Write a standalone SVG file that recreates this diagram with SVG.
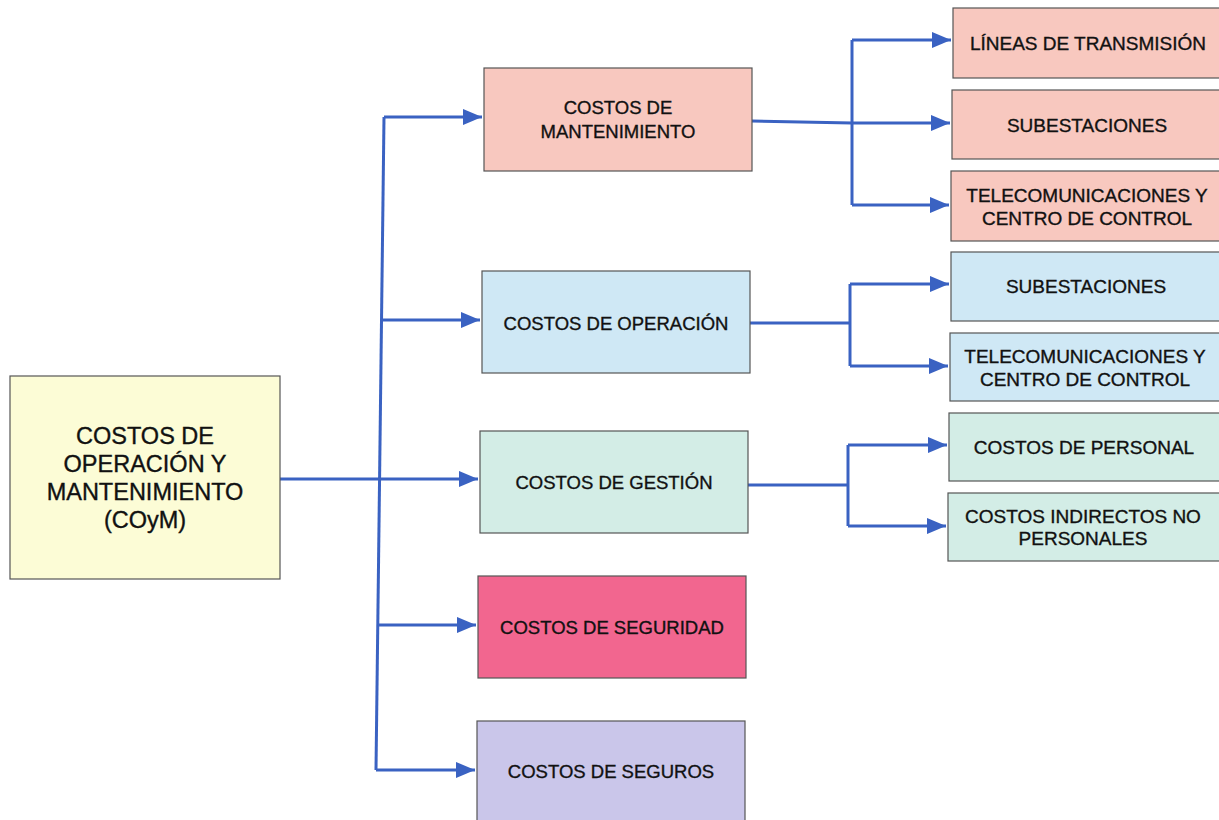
<svg xmlns="http://www.w3.org/2000/svg" width="1219" height="820" viewBox="0 0 1219 820">
<defs>
<marker id="ah" viewBox="0 0 10 10" refX="10" refY="5" markerWidth="6.5" markerHeight="5.5" markerUnits="strokeWidth" orient="auto" preserveAspectRatio="none">
<path d="M0,0 L10,5 L0,10 Z" fill="#3a62c2"/>
</marker>
</defs>
<style>
.b{stroke:#555;stroke-width:1.2}
.t{font-family:"Liberation Sans",Arial,sans-serif;fill:#111;text-anchor:middle;stroke:#111;stroke-width:0.35}
.m{font-size:18.5px}
.r{font-size:19px}
.c{fill:none;stroke:#3a62c2;stroke-width:3}
.pk{fill:#f8c8bf}
.bl{fill:#cfe8f5}
.gn{fill:#d3ede6}
</style>
<rect width="1219" height="820" fill="#fff"/>
<g id="connectors">
<path class="c" d="M384,117 L376,770"/>
<path class="c" d="M384,117 H482" marker-end="url(#ah)"/>
<path class="c" d="M382,320 H480" marker-end="url(#ah)"/>
<path class="c" d="M280,479 H478" marker-end="url(#ah)"/>
<path class="c" d="M378,625 H476" marker-end="url(#ah)"/>
<path class="c" d="M376,770 H475" marker-end="url(#ah)"/>
<path class="c" d="M752,121 L852,123"/>
<path class="c" d="M852,40 V205"/>
<path class="c" d="M852,40 H951" marker-end="url(#ah)"/>
<path class="c" d="M852,123 H950" marker-end="url(#ah)"/>
<path class="c" d="M852,205 H949" marker-end="url(#ah)"/>
<path class="c" d="M750,323 H850"/>
<path class="c" d="M850,284 V366"/>
<path class="c" d="M850,284 H949" marker-end="url(#ah)"/>
<path class="c" d="M850,366 H948" marker-end="url(#ah)"/>
<path class="c" d="M748,485 H848"/>
<path class="c" d="M848,445 V526"/>
<path class="c" d="M848,445 H947" marker-end="url(#ah)"/>
<path class="c" d="M848,526 H946" marker-end="url(#ah)"/>
</g>
<g id="root">
<rect class="b" x="10" y="376" width="270" height="203" fill="#fcfcd6"/>
<text class="t" x="145" y="444" font-size="23.5">COSTOS DE</text>
<text class="t" x="145" y="472" font-size="23.5">OPERACIÓN Y</text>
<text class="t" x="145" y="500" font-size="23.5">MANTENIMIENTO</text>
<text class="t" x="145" y="528" font-size="23.5">(COyM)</text>
</g>
<g id="mantenimiento">
<rect class="b pk" x="484" y="68" width="268" height="103"/>
<text class="t m" x="618" y="114">COSTOS DE</text>
<text class="t m" x="618" y="138">MANTENIMIENTO</text>
</g>
<g id="operacion">
<rect class="b bl" x="482" y="271" width="268" height="102"/>
<text class="t m" x="616" y="330">COSTOS DE OPERACIÓN</text>
</g>
<g id="gestion">
<rect class="b gn" x="480" y="431" width="268" height="102"/>
<text class="t m" x="614" y="489">COSTOS DE GESTIÓN</text>
</g>
<g id="seguridad">
<rect class="b" x="478" y="576" width="268" height="102" fill="#f2668f"/>
<text class="t m" x="612" y="634">COSTOS DE SEGURIDAD</text>
</g>
<g id="seguros">
<rect class="b" x="477" y="721" width="268" height="102" fill="#cac6ea"/>
<text class="t m" x="611" y="778">COSTOS DE SEGUROS</text>
</g>
<g id="m-lineas">
<rect class="b pk" x="953" y="8" width="270" height="70"/>
<text class="t r" x="1088" y="50">LÍNEAS DE TRANSMISIÓN</text>
</g>
<g id="m-subestaciones">
<rect class="b pk" x="952" y="90" width="270" height="69"/>
<text class="t r" x="1087" y="132">SUBESTACIONES</text>
</g>
<g id="m-telecom">
<rect class="b pk" x="951" y="171" width="270" height="70"/>
<text class="t r" x="1087" y="202">TELECOMUNICACIONES Y</text>
<text class="t r" x="1087" y="225">CENTRO DE CONTROL</text>
</g>
<g id="o-subestaciones">
<rect class="b bl" x="951" y="252" width="270" height="69"/>
<text class="t r" x="1086" y="293">SUBESTACIONES</text>
</g>
<g id="o-telecom">
<rect class="b bl" x="950" y="333" width="270" height="68"/>
<text class="t r" x="1085" y="363">TELECOMUNICACIONES Y</text>
<text class="t r" x="1085" y="386">CENTRO DE CONTROL</text>
</g>
<g id="g-personal">
<rect class="b gn" x="949" y="413" width="272" height="68"/>
<text class="t r" x="1084" y="454">COSTOS DE PERSONAL</text>
</g>
<g id="g-indirectos">
<rect class="b gn" x="948" y="493" width="272" height="68"/>
<text class="t r" x="1083" y="523">COSTOS INDIRECTOS NO</text>
<text class="t r" x="1083" y="545">PERSONALES</text>
</g>
</svg>
